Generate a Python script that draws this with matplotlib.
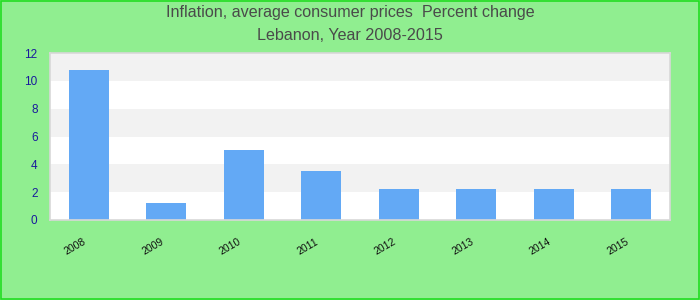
import matplotlib.pyplot as plt
import matplotlib.transforms as mtransforms
from matplotlib.patches import Rectangle

# Data
years = ["2008", "2009", "2010", "2011", "2012", "2013", "2014", "2015"]
inflation = [10.8, 1.2, 5.0, 3.5, 2.2, 2.2, 2.2, 2.2]
yticks = [0, 2, 4, 6, 8, 10, 12]

plt.rcParams['font.family'] = ['Liberation Sans', 'DejaVu Sans']

fig = plt.figure(figsize=(7, 3), dpi=100, facecolor="#90ee90")
ax = fig.add_axes([50 / 700, 80 / 300, 620 / 700, 167 / 300])
ax.set_facecolor("white")

# alternating horizontal bands
for i in range(len(yticks) - 1):
    if i % 2 == 1:
        ax.axhspan(yticks[i], yticks[i + 1], color="#f2f2f2", zorder=0, lw=0)

x = range(len(years))
ax.bar(x, inflation, width=0.52, color="#63a9f5", zorder=2)

ax.set_xlim(-0.5, len(years) - 0.5)
ax.set_ylim(0, 12)
ax.set_yticks(yticks)
ax.set_yticklabels([str(t) for t in yticks], color="#1a1a9c", fontsize=8.5)
ax.set_xticks(list(x))
ax.set_xticklabels(years, rotation=30, ha="right", fontsize=7.5, color="#111111",
                   rotation_mode="anchor")
ax.tick_params(axis="y", length=0, pad=9)
ax.tick_params(axis="x", length=0, pad=12)
shift = mtransforms.ScaledTranslation(-6 / 100, 0, fig.dpi_scale_trans)
for lbl in ax.get_xticklabels():
    lbl.set_transform(lbl.get_transform() + shift)
for s in ax.spines.values():
    s.set_color("#d8d8d8")
    s.set_linewidth(1.2)

fig.text(0.5, 1 - 13 / 300, "Inflation, average consumer prices  Percent change",
         ha="center", va="center", fontsize=11.6, color="#4a4a4a")
fig.text(0.5, 1 - 35 / 300, "Lebanon, Year 2008-2015",
         ha="center", va="center", fontsize=11.6, color="#4a4a4a")

# outer border
fig.patches.append(Rectangle((0.001, 0.002), 0.997, 0.995, transform=fig.transFigure,
                             fill=False, edgecolor="#22dd22", linewidth=1.2))

fig.savefig("out.png", dpi=100, facecolor=fig.get_facecolor())
